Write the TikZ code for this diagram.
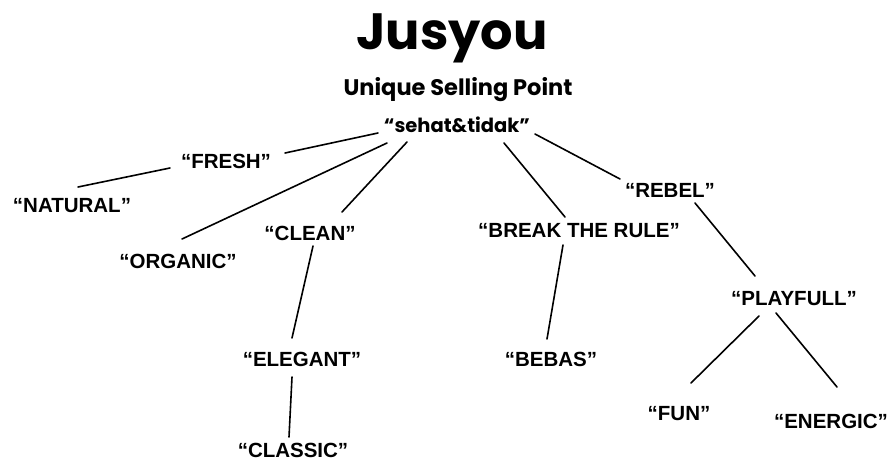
\documentclass[tikz,border=0pt]{standalone}
\usepackage{fontspec}
\setmainfont{Liberation Sans}
\newfontfamily\popfont{Poppins}
\begin{document}
\begin{tikzpicture}[x=1pt,y=-1pt,
  lbl/.style={anchor=base,inner sep=0pt,font=\fontsize{20.5}{22}\selectfont\bfseries},
  conn/.style={line width=1.6pt,line cap=round}]
\useasboundingbox (0,0) rectangle (890,461);
\node[anchor=base,inner sep=0pt,font=\fontsize{51}{54}\popfont\bfseries] (title) at (452,49) {Jusyou};
\node[anchor=base,inner sep=0pt,font=\fontsize{22.5}{24}\popfont\bfseries] (sub) at (458,95) {Unique Selling Point};
\node[anchor=base,inner sep=0pt,font=\fontsize{19.5}{21}\popfont\bfseries] (sehat) at (457,132) {“sehat\&tidak”};
\node[lbl] (fresh) at (226,168) {“FRESH”};
\node[lbl] (natural) at (72,212) {“NATURAL”};
\node[lbl] (organic) at (178,268) {“ORGANIC”};
\node[lbl] (clean) at (310,240) {“CLEAN”};
\node[lbl] (elegant) at (302,366) {“ELEGANT”};
\node[lbl] (classic) at (293,457) {“CLASSIC”};
\node[lbl] (break) at (579,237) {“BREAK THE RULE”};
\node[lbl] (bebas) at (551,366) {“BEBAS”};
\node[lbl] (rebel) at (670,197) {“REBEL”};
\node[lbl] (playfull) at (794,305) {“PLAYFULL”};
\node[lbl] (fun) at (679,420) {“FUN”};
\node[lbl] (energic) at (831,428) {“ENERGIC”};
% connectors
\draw[conn] ([shift={(-79,1)}]sehat.base) -- ([shift={(59,-15)}]fresh.base);
\draw[conn] ([shift={(-56,0)}]fresh.base) -- ([shift={(6,-25)}]natural.base);
\draw[conn] ([shift={(-70,11)}]sehat.base) -- ([shift={(4,-29)}]organic.base);
\draw[conn] ([shift={(-50,10)}]sehat.base) -- ([shift={(32,-28)}]clean.base);
\draw[conn] ([shift={(3,6)}]clean.base) -- ([shift={(-10,-28)}]elegant.base);
\draw[conn] ([shift={(-10,11)}]elegant.base) -- ([shift={(-4,-20)}]classic.base);
\draw[conn] ([shift={(47,11)}]sehat.base) -- ([shift={(-14,-20)}]break.base);
\draw[conn] ([shift={(-16,8)}]break.base) -- ([shift={(-4,-27)}]bebas.base);
\draw[conn] ([shift={(78,2)}]sehat.base) -- ([shift={(-50,-18)}]rebel.base);
\draw[conn] ([shift={(25,6)}]rebel.base) -- ([shift={(-39,-29)}]playfull.base);
\draw[conn] ([shift={(-35,11)}]playfull.base) -- ([shift={(12,-37)}]fun.base);
\draw[conn] ([shift={(-18,8)}]playfull.base) -- ([shift={(6,-41)}]energic.base);
\end{tikzpicture}
\end{document}
